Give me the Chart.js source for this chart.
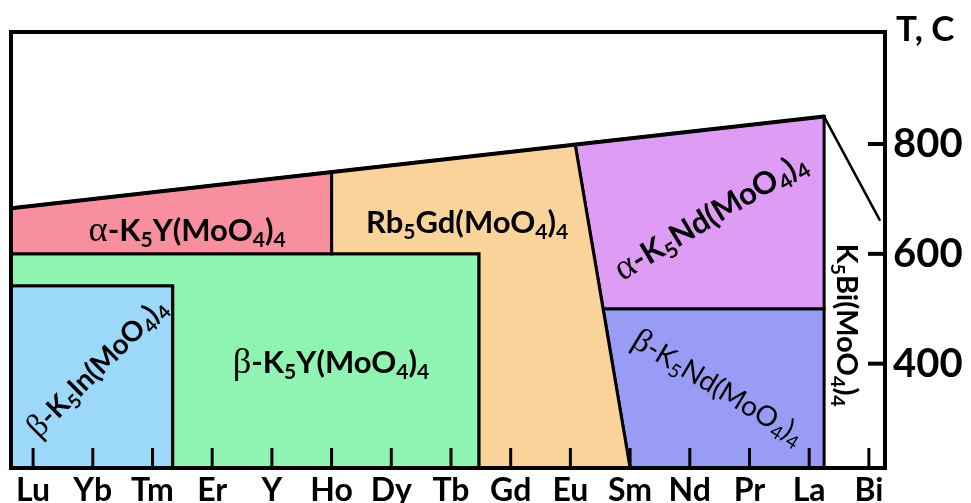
<!DOCTYPE html>
<html>
<head>
<meta charset="utf-8">
<script src="https://cdn.jsdelivr.net/npm/chart.js@4.4.1/dist/chart.umd.min.js"></script>
<style>
html, body { margin: 0; padding: 0; background: #fff; }
#wrap { width: 971px; height: 503px; position: relative; }
</style>
</head>
<body>
<div id="wrap"><canvas id="phaseChart"></canvas></div>
<script>
// composition axis: R in K5R(MoO4)4, Lu ... Bi
const categories = ['Lu', 'Yb', 'Tm', 'Er', 'Y', 'Ho', 'Dy', 'Tb', 'Gd', 'Eu', 'Sm', 'Nd', 'Pr', 'La', 'Bi'];
const tempTicks = [400, 600, 800];

// phase fields as outlines: [position on the axis (0 = Lu, 14 = Bi), T in C]
const alphaK5Y = [[-0.37, 683], [5, 749], [5, 600], [-0.37, 600]];
const rb5Gd = [[5, 749], [9.08, 799], [10, 210], [7.47, 210], [7.47, 600], [5, 600]];
const betaK5Y = [[-0.37, 600], [7.47, 600], [7.47, 210], [2.34, 210], [2.34, 542], [-0.37, 542]];
const betaK5In = [[-0.37, 542], [2.34, 542], [2.34, 210], [-0.37, 210]];
const alphaK5Nd = [[9.08, 799], [13.25, 850], [13.25, 500], [9.55, 500]];
const betaK5Nd = [[9.55, 500], [13.25, 500], [13.25, 210], [10, 210]];
const meltTop = [[-0.37, 683], [13.25, 850]];
const meltBi = [[13.25, 850], [14.18, 662]];

const xMin = -0.37, xMax = 14.27;
const tMin = 210, tMax = 1004;

// where the phase names go (same units as above)
const fieldLabels = [
    { text: 'α-K_5Y(MoO_4)_4', x: 2.58, t: 644, rot: 0 },
    { text: 'Rb_5Gd(MoO_4)_4', x: 7.27, t: 658, rot: 0 },
    { text: 'β-K_5Y(MoO_4)_4', x: 4.99, t: 404, rot: 0 },
    { text: 'β-K_5In(MoO_4)_4', x: 1.06, t: 394, rot: -45, size: 28 },
    { text: 'α-K_5Nd(MoO_4)_4', x: 11.34, t: 670, rot: -31 },
    { text: 'β-K_5Nd(MoO_4)_4', x: 11.48, t: 358, rot: 31, size: 28, light: true },
    { text: 'K_5Bi(MoO_4)_4', x: 13.64, t: 470, rot: 90, size: 29 }
];

const FONT = 'Lato';

function field(pts, color) {
    const data = pts.map(([x, y]) => ({ x, y }));
    data.push({ x: pts[0][0], y: pts[0][1] });
    return {
        data: data,
        showLine: true,
        fill: 'shape',
        backgroundColor: color,
        borderColor: '#000',
        borderWidth: 3,
        pointRadius: 0,
        tension: 0
    };
}

function boundary(pts, width) {
    return {
        data: pts.map(([x, y]) => ({ x, y })),
        showLine: true,
        fill: false,
        borderColor: '#000',
        borderWidth: width,
        pointRadius: 0,
        borderCapStyle: 'round'
    };
}

// text with subscripts: "_5" -> subscript 5, greek letters in a serif face
function drawRich(ctx, text, x, y, rot, size, light) {
    const runs = [];
    for (let i = 0; i < text.length; i++) {
        let ch = text[i], kind = 'n';
        if (ch === '_') { ch = text[++i]; kind = 's'; }
        else if (ch === 'α' || ch === 'β') kind = 'g';
        const last = runs[runs.length - 1];
        if (last && last.kind === kind) last.t += ch;
        else runs.push({ t: ch, kind: kind });
    }
    const w = light ? 'normal' : 'bold';
    const fontOf = r => r.kind === 'g' ? `${size * 1.18}px "Liberation Serif"`
        : r.kind === 's' ? `${w} ${size * 0.68}px ${FONT}` : `${w} ${size}px ${FONT}`;
    let total = 0;
    runs.forEach(r => { ctx.font = fontOf(r); r.w = ctx.measureText(r.t).width; total += r.w; });
    ctx.save();
    ctx.translate(x, y);
    ctx.rotate(rot * Math.PI / 180);
    ctx.fillStyle = '#000';
    ctx.textBaseline = 'alphabetic';
    let cx = -total / 2;
    const base = size * 0.36;
    runs.forEach(r => {
        ctx.font = fontOf(r);
        ctx.fillText(r.t, cx, base + (r.kind === 's' ? size * 0.2 : 0));
        cx += r.w;
    });
    ctx.restore();
}

const framePlugin = {
    id: 'frame',
    afterDatasetsDraw(chart) {
        const { ctx, chartArea: a, scales: { x, y } } = chart;
        fieldLabels.forEach(l => {
            drawRich(ctx, l.text, x.getPixelForValue(l.x), y.getPixelForValue(l.t), l.rot, l.size || 31, l.light);
        });

        ctx.save();
        ctx.strokeStyle = '#000';
        ctx.lineWidth = 4;
        ctx.strokeRect(a.left, a.top, a.right - a.left, a.bottom - a.top);

        // tick marks point into the plot
        ctx.lineWidth = 3;
        categories.forEach((c, i) => {
            const px = x.getPixelForValue(i);
            ctx.beginPath();
            ctx.moveTo(px, a.bottom);
            ctx.lineTo(px, a.bottom - 20);
            ctx.stroke();
        });
        ctx.lineWidth = 4;
        tempTicks.forEach(t => {
            const py = y.getPixelForValue(t);
            ctx.beginPath();
            ctx.moveTo(a.right, py);
            ctx.lineTo(a.right - 17, py);
            ctx.stroke();
        });

        // axis title
        ctx.fillStyle = '#000';
        ctx.font = `bold 35px ${FONT}`;
        ctx.textBaseline = 'middle';
        ctx.fillText('T, C', a.right + 11, a.top - 2);
        ctx.restore();
    }
};

new Chart(document.getElementById('phaseChart'), {
    type: 'scatter',
    data: {
        datasets: [
            boundary(meltTop, 4),
            boundary(meltBi, 2.5),
            field(alphaK5Y, '#F88F9E'),
            field(rb5Gd, '#FAD39B'),
            field(betaK5Y, '#8FF3B2'),
            field(betaK5In, '#9CD8FA'),
            field(alphaK5Nd, '#DE9CF4'),
            field(betaK5Nd, '#989CF5')
        ]
    },
    options: {
        responsive: true,
        maintainAspectRatio: false,
        animation: false,
        layout: { padding: { left: 11, top: 25, right: 0, bottom: 0 } },
        plugins: { legend: { display: false }, tooltip: { enabled: false } },
        scales: {
            x: {
                type: 'linear',
                min: xMin,
                max: xMax,
                afterBuildTicks: s => { s.ticks = categories.map((c, i) => ({ value: i })); },
                afterFit: s => { s.height = 35; },
                grid: { display: false, drawTicks: false },
                border: { display: false },
                ticks: {
                    callback: v => categories[v],
                    color: '#000',
                    padding: 3,
                    maxRotation: 0,
                    autoSkip: false,
                    font: { family: FONT, weight: 'bold', size: 32 }
                }
            },
            y: {
                type: 'linear',
                position: 'right',
                min: tMin,
                max: tMax,
                afterBuildTicks: s => { s.ticks = tempTicks.map(v => ({ value: v })); },
                afterFit: s => { s.width = 86; },
                grid: { display: false, drawTicks: false },
                border: { display: false },
                ticks: {
                    color: '#000',
                    padding: 8,
                    font: { family: FONT, weight: 'bold', size: 40 }
                }
            }
        }
    },
    plugins: [framePlugin]
});
</script>
</body>
</html>
